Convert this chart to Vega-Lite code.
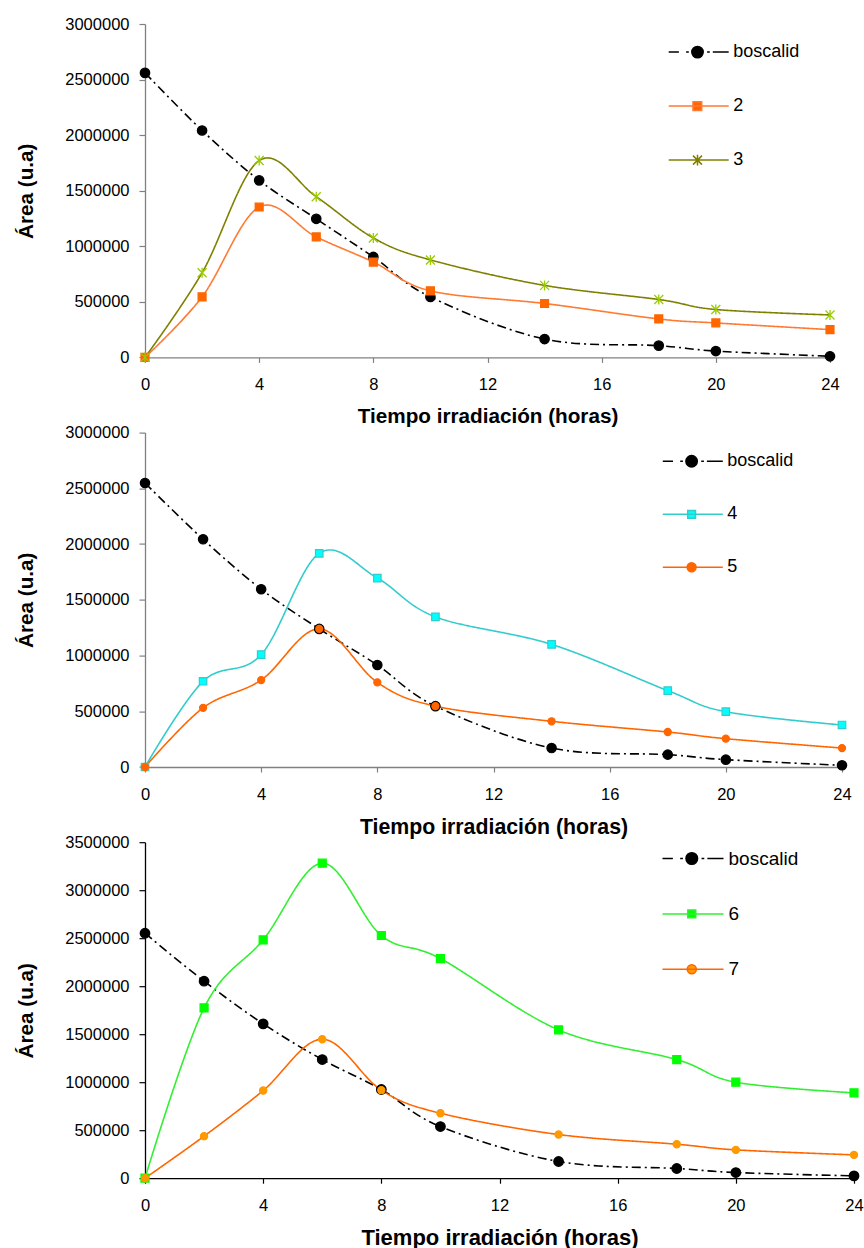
{
  "$schema": "https://vega.github.io/schema/vega-lite/v6.json",
  "background": "white",
  "padding": {"left": 15, "top": 16, "right": 4, "bottom": 4},
  "datasets": {
    "p1": [
      {"serie": "boscalid", "t": 0, "area": 2560000},
      {"serie": "boscalid", "t": 2, "area": 2042000},
      {"serie": "boscalid", "t": 4, "area": 1593000},
      {"serie": "boscalid", "t": 6, "area": 1247000},
      {"serie": "boscalid", "t": 8, "area": 904000},
      {"serie": "boscalid", "t": 10, "area": 544000},
      {"serie": "boscalid", "t": 14, "area": 165000},
      {"serie": "boscalid", "t": 18, "area": 106000},
      {"serie": "boscalid", "t": 20, "area": 57000},
      {"serie": "boscalid", "t": 24, "area": 10000},
      {"serie": "2", "t": 0, "area": 0},
      {"serie": "2", "t": 2, "area": 545000},
      {"serie": "2", "t": 4, "area": 1353000},
      {"serie": "2", "t": 6, "area": 1084000},
      {"serie": "2", "t": 8, "area": 858000},
      {"serie": "2", "t": 10, "area": 599000},
      {"serie": "2", "t": 14, "area": 485000},
      {"serie": "2", "t": 18, "area": 346000},
      {"serie": "2", "t": 20, "area": 310000},
      {"serie": "2", "t": 24, "area": 250000},
      {"serie": "3", "t": 0, "area": 0},
      {"serie": "3", "t": 2, "area": 762000},
      {"serie": "3", "t": 4, "area": 1771000},
      {"serie": "3", "t": 6, "area": 1446000},
      {"serie": "3", "t": 8, "area": 1075000},
      {"serie": "3", "t": 10, "area": 877000},
      {"serie": "3", "t": 14, "area": 648000},
      {"serie": "3", "t": 18, "area": 521000},
      {"serie": "3", "t": 20, "area": 431000},
      {"serie": "3", "t": 24, "area": 382000}
    ],
    "p2": [
      {"serie": "boscalid", "t": 0, "area": 2548000},
      {"serie": "boscalid", "t": 2, "area": 2043000},
      {"serie": "boscalid", "t": 4, "area": 1595000},
      {"serie": "boscalid", "t": 6, "area": 1239000},
      {"serie": "boscalid", "t": 8, "area": 915000},
      {"serie": "boscalid", "t": 10, "area": 546000},
      {"serie": "boscalid", "t": 14, "area": 170000},
      {"serie": "boscalid", "t": 18, "area": 111000},
      {"serie": "boscalid", "t": 20, "area": 66000},
      {"serie": "boscalid", "t": 24, "area": 15000},
      {"serie": "4", "t": 0, "area": 0},
      {"serie": "4", "t": 2, "area": 769000},
      {"serie": "4", "t": 4, "area": 1008000},
      {"serie": "4", "t": 6, "area": 1917000},
      {"serie": "4", "t": 8, "area": 1695000},
      {"serie": "4", "t": 10, "area": 1347000},
      {"serie": "4", "t": 14, "area": 1100000},
      {"serie": "4", "t": 18, "area": 685000},
      {"serie": "4", "t": 20, "area": 496000},
      {"serie": "4", "t": 24, "area": 377000},
      {"serie": "5", "t": 0, "area": 0},
      {"serie": "5", "t": 2, "area": 531000},
      {"serie": "5", "t": 4, "area": 780000},
      {"serie": "5", "t": 6, "area": 1239000},
      {"serie": "5", "t": 8, "area": 759000},
      {"serie": "5", "t": 10, "area": 546000},
      {"serie": "5", "t": 14, "area": 410000},
      {"serie": "5", "t": 18, "area": 314000},
      {"serie": "5", "t": 20, "area": 254000},
      {"serie": "5", "t": 24, "area": 170000}
    ],
    "p3": [
      {"serie": "boscalid", "t": 0, "area": 2552000},
      {"serie": "boscalid", "t": 2, "area": 2052000},
      {"serie": "boscalid", "t": 4, "area": 1608000},
      {"serie": "boscalid", "t": 6, "area": 1236000},
      {"serie": "boscalid", "t": 8, "area": 924000},
      {"serie": "boscalid", "t": 10, "area": 538000},
      {"serie": "boscalid", "t": 14, "area": 174000},
      {"serie": "boscalid", "t": 18, "area": 101000},
      {"serie": "boscalid", "t": 20, "area": 59000},
      {"serie": "boscalid", "t": 24, "area": 24000},
      {"serie": "6", "t": 0, "area": 0},
      {"serie": "6", "t": 2, "area": 1774000},
      {"serie": "6", "t": 4, "area": 2483000},
      {"serie": "6", "t": 6, "area": 3281000},
      {"serie": "6", "t": 8, "area": 2528000},
      {"serie": "6", "t": 10, "area": 2288000},
      {"serie": "6", "t": 14, "area": 1545000},
      {"serie": "6", "t": 18, "area": 1236000},
      {"serie": "6", "t": 20, "area": 1000000},
      {"serie": "6", "t": 24, "area": 889000},
      {"serie": "7", "t": 0, "area": 0},
      {"serie": "7", "t": 2, "area": 438000},
      {"serie": "7", "t": 4, "area": 913000},
      {"serie": "7", "t": 6, "area": 1448000},
      {"serie": "7", "t": 8, "area": 917000},
      {"serie": "7", "t": 10, "area": 677000},
      {"serie": "7", "t": 14, "area": 455000},
      {"serie": "7", "t": 18, "area": 354000},
      {"serie": "7", "t": 20, "area": 295000},
      {"serie": "7", "t": 24, "area": 243000}
    ]
  },
  "vconcat": [
    {
      "width": 685,
      "height": 333.4,
      "data": {"name": "p1"},
      "encoding": {
        "x": {"field": "t", "type": "quantitative", "scale": {"domain": [0, 24], "nice": false},
              "axis": {"values": [0, 4, 8, 12, 16, 20, 24], "title": "Tiempo irradiación (horas)"}},
        "y": {"field": "area", "type": "quantitative", "scale": {"domain": [0, 3000000], "nice": false},
              "axis": {"values": [0, 500000, 1000000, 1500000, 2000000, 2500000, 3000000], "format": "d", "title": "Área (u.a)"}}
      },
      "layer": [
        {
          "mark": {"type": "line", "interpolate": "cardinal", "strokeWidth": 1.6},
          "encoding": {
            "color": {"field": "serie", "type": "nominal",
              "scale": {"domain": ["boscalid", "2", "3"], "range": ["#000000", "#FF7A33", "#808000"]},
              "legend": {
                "orient": "none", "legendX": 522.7, "legendY": -2.9, "title": null,
                "symbolSize": 3600, "symbolStrokeWidth": 1.5, "labelFontSize": 18, "labelOffset": 3.5, "rowPadding": 14
              }},
            "strokeDash": {"condition": {"test": "datum.serie === 'boscalid'", "value": [9, 4, 2, 4]}, "value": [1, 0]}
          }
        },
        {
          "mark": {"type": "point", "filled": true, "strokeWidth": 1.3, "opacity": 1},
          "encoding": {
            "shape": {"condition": [{"test": "datum.serie === 'boscalid'", "value": "circle"}, {"test": "datum.serie === '2'", "value": "square"}],
                      "value": "M0,-1V1M-0.9,-0.9L0.9,0.9M-0.9,0.9L0.9,-0.9"},
            "fill": {"condition": [{"test": "datum.serie === 'boscalid'", "value": "#000000"}, {"test": "datum.serie === '2'", "value": "#FF6600"}],
                     "value": "transparent"},
            "stroke": {"condition": [{"test": "datum.serie === 'boscalid'", "value": "#000000"}, {"test": "datum.serie === '2'", "value": "#FF6600"}],
                       "value": "#99CC00"},
            "size": {"condition": [{"test": "datum.serie === 'boscalid'", "value": 88}, {"test": "datum.serie === '2'", "value": 62}],
                     "value": 100}
          }
        },
        {
          "mark": {"type": "point", "filled": true, "opacity": 0},
          "encoding": {
            "shape": {"field": "serie", "type": "nominal",
              "scale": {"domain": ["boscalid", "2", "3"], "range": [
                "M-1,0H-0.66M-0.42,0H-0.33M0.28,0H0.37M0.47,0H1M0.15,0A0.19,0.19,0,1,1,-0.23,0A0.19,0.19,0,1,1,0.15,0Z",
                "M-1,0H1M-0.19,-0.145H0.1V0.145H-0.19Z",
                "M-1,0H1M-0.04,-0.18V0.18M-0.19,-0.15L0.11,0.15M-0.19,0.15L0.11,-0.15"]},
              "legend": {"title": null}},
            "fill": {"field": "serie", "type": "nominal",
              "scale": {"domain": ["boscalid", "2", "3"], "range": ["#000000", "#FF6600", "transparent"]},
              "legend": {"title": null}}
          }
        }
      ]
    },
    {
      "width": 697,
      "height": 334.4,
      "data": {"name": "p2"},
      "encoding": {
        "x": {"field": "t", "type": "quantitative", "scale": {"domain": [0, 24], "nice": false},
              "axis": {"values": [0, 4, 8, 12, 16, 20, 24], "title": "Tiempo irradiación (horas)", "titleFontSize": 21.3}},
        "y": {"field": "area", "type": "quantitative", "scale": {"domain": [0, 3000000], "nice": false},
              "axis": {"values": [0, 500000, 1000000, 1500000, 2000000, 2500000, 3000000], "format": "d", "title": "Área (u.a)"}}
      },
      "layer": [
        {
          "mark": {"type": "line", "interpolate": "cardinal", "strokeWidth": 1.6},
          "encoding": {
            "color": {"field": "serie", "type": "nominal",
              "scale": {"domain": ["boscalid", "4", "5"], "range": ["#000000", "#33CCCC", "#FF6600"]},
              "legend": {
                "orient": "none", "legendX": 516.8, "legendY": -2.3, "title": null,
                "symbolSize": 3600, "symbolStrokeWidth": 1.5, "labelFontSize": 18, "labelOffset": 3.5, "rowPadding": 13
              }},
            "strokeDash": {"condition": {"test": "datum.serie === 'boscalid'", "value": [9, 4, 2, 4]}, "value": [1, 0]}
          }
        },
        {
          "mark": {"type": "point", "filled": true, "strokeWidth": 1.2, "opacity": 1},
          "encoding": {
            "shape": {"condition": [{"test": "datum.serie === '4'", "value": "square"}], "value": "circle"},
            "fill": {"condition": [{"test": "datum.serie === 'boscalid'", "value": "#000000"}, {"test": "datum.serie === '4'", "value": "#00FFFF"}],
                     "value": "#FF6600"},
            "stroke": {"condition": [{"test": "datum.serie === 'boscalid'", "value": "#000000"}, {"test": "datum.serie === '4'", "value": "#33CCCC"}],
                       "value": "#FF6600"},
            "size": {"condition": [{"test": "datum.serie === 'boscalid'", "value": 88}, {"test": "datum.serie === '4'", "value": 56}],
                     "value": 50}
          }
        },
        {
          "mark": {"type": "point", "filled": true, "opacity": 0},
          "encoding": {
            "shape": {"field": "serie", "type": "nominal",
              "scale": {"domain": ["boscalid", "4", "5"], "range": [
                "M-1,0H-0.66M-0.42,0H-0.33M0.28,0H0.37M0.47,0H1M0.15,0A0.19,0.19,0,1,1,-0.23,0A0.19,0.19,0,1,1,0.15,0Z",
                "M-1,0H1M-0.17,-0.13H0.09V0.13H-0.17Z",
                "M-1,0H1M0.11,0A0.15,0.15,0,1,1,-0.19,0A0.15,0.15,0,1,1,0.11,0Z"]},
              "legend": {"title": null}},
            "fill": {"field": "serie", "type": "nominal",
              "scale": {"domain": ["boscalid", "4", "5"], "range": ["#000000", "#00FFFF", "#FF6600"]},
              "legend": {"title": null}}
          }
        }
      ]
    },
    {
      "width": 709,
      "height": 336,
      "data": {"name": "p3"},
      "encoding": {
        "x": {"field": "t", "type": "quantitative", "scale": {"domain": [0, 24], "nice": false},
              "axis": {"values": [0, 4, 8, 12, 16, 20, 24], "title": "Tiempo irradiación (horas)", "titleFontSize": 22,
                       "domainColor": "#000000", "tickColor": "#000000"}},
        "y": {"field": "area", "type": "quantitative", "scale": {"domain": [0, 3500000], "nice": false},
              "axis": {"values": [0, 500000, 1000000, 1500000, 2000000, 2500000, 3000000, 3500000], "format": "d", "title": "Área (u.a)",
                       "domainColor": "#000000", "tickColor": "#000000"}}
      },
      "layer": [
        {
          "mark": {"type": "line", "interpolate": "cardinal", "strokeWidth": 1.6},
          "encoding": {
            "color": {"field": "serie", "type": "nominal",
              "scale": {"domain": ["boscalid", "6", "7"], "range": ["#000000", "#33EE33", "#FF6600"]},
              "legend": {
                "orient": "none", "legendX": 516.5, "legendY": -15.2, "title": null,
                "symbolSize": 3721, "symbolStrokeWidth": 1.5, "labelFontSize": 19, "labelOffset": 4, "rowPadding": 13.4
              }},
            "strokeDash": {"condition": {"test": "datum.serie === 'boscalid'", "value": [9, 4, 2, 4]}, "value": [1, 0]}
          }
        },
        {
          "mark": {"type": "point", "filled": true, "strokeWidth": 1.2, "opacity": 1},
          "encoding": {
            "shape": {"condition": [{"test": "datum.serie === '6'", "value": "square"}], "value": "circle"},
            "fill": {"condition": [{"test": "datum.serie === 'boscalid'", "value": "#000000"}, {"test": "datum.serie === '6'", "value": "#00FF00"}],
                     "value": "#FF9900"},
            "stroke": {"condition": [{"test": "datum.serie === 'boscalid'", "value": "#000000"}, {"test": "datum.serie === '6'", "value": "#00FF00"}],
                       "value": "#FF9900"},
            "size": {"condition": [{"test": "datum.serie === 'boscalid'", "value": 92}, {"test": "datum.serie === '6'", "value": 64}],
                     "value": 52}
          }
        },
        {
          "mark": {"type": "point", "filled": true, "opacity": 0},
          "encoding": {
            "shape": {"field": "serie", "type": "nominal",
              "scale": {"domain": ["boscalid", "6", "7"], "range": [
                "M-1,0H-0.66M-0.42,0H-0.33M0.28,0H0.37M0.47,0H1M0.15,0A0.19,0.19,0,1,1,-0.23,0A0.19,0.19,0,1,1,0.15,0Z",
                "M-1,0H1M-0.17,-0.13H0.09V0.13H-0.17Z",
                "M-1,0H1M0.11,0A0.15,0.15,0,1,1,-0.19,0A0.15,0.15,0,1,1,0.11,0Z"]},
              "legend": {"title": null}},
            "fill": {"field": "serie", "type": "nominal",
              "scale": {"domain": ["boscalid", "6", "7"], "range": ["#000000", "#00FF00", "#FF9900"]},
              "legend": {"title": null}}
          }
        }
      ]
    }
  ],
  "spacing": 74.6,
  "bounds": "flush",
  "resolve": {
    "scale": {"x": "independent", "y": "independent", "color": "independent", "shape": "independent", "fill": "independent"}
  },
  "config": {
    "view": {"stroke": null},
    "font": "Liberation Sans",
    "axis": {
      "grid": false,
      "labelFont": "Liberation Sans", "labelFontSize": 16.5, "labelColor": "#000000",
      "titleFont": "Liberation Sans", "titleFontWeight": "bold", "titleFontSize": 20.7, "titleColor": "#000000",
      "domainColor": "#808080", "tickColor": "#808080", "domainWidth": 1.3, "tickWidth": 1.2
    },
    "axisX": {"tickSize": 5, "labelPadding": 14, "titlePadding": 14, "labelFlush": false},
    "axisY": {"tickSize": 6, "labelPadding": 10, "titlePadding": 28},
    "legend": {"labelFont": "Liberation Sans", "labelColor": "#000000", "symbolOpacity": 1, "padding": 0}
  }
}
